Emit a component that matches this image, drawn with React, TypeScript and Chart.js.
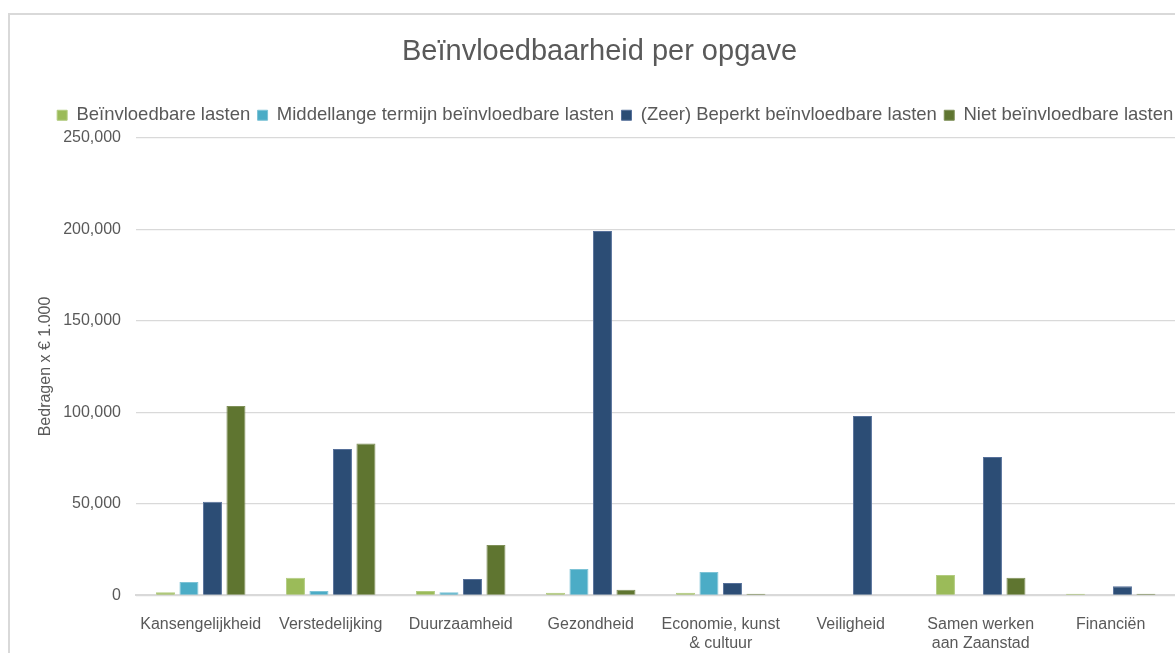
import React, { useEffect, useRef } from 'react';
import { Chart, registerables } from 'chart.js';

Chart.register(...registerables);

const FONT = '"Liberation Sans", Arial, sans-serif';
const TEXT = '#595959';

const chartTitle = 'Beïnvloedbaarheid per opgave';
const yAxisTitle = 'Bedragen x € 1.000';

const categories: (string | string[])[] = [
  'Kansengelijkheid',
  'Verstedelijking',
  'Duurzaamheid',
  'Gezondheid',
  ['Economie, kunst', '& cultuur'],
  'Veiligheid',
  ['Samen werken', 'aan Zaanstad'],
  'Financiën',
];

const seriesNames = [
  'Beïnvloedbare lasten',
  'Middellange termijn beïnvloedbare lasten',
  '(Zeer) Beperkt beïnvloedbare lasten',
  'Niet beïnvloedbare lasten',
];

const beinvloedbaar = [1600, 9600, 2300, 1400, 1400, 0, 11100, 900];
const middellang = [7300, 2300, 1600, 14400, 12700, 0, 0, 0];
const beperkt = [51100, 79900, 8900, 199000, 6700, 98000, 75600, 4900];
const nietBeinvloedbaar = [103400, 83000, 27500, 3100, 900, 0, 9600, 900];

const yMin = 0;
const yMax = 250000;
const yStep = 50000;

const fills = ['#9bbb59', '#4bacc6', '#2c4d75', '#5f7530'];
const edges = ['#b3cc80', '#7dc3d6', '#56709a', '#7f9058'];

const LEGEND_DX = 26.5;
const LEGEND_DY = -3.2;

const legendShift = {
  id: 'legendShift',
  afterLayout(chart: any) {
    const l = chart.legend;
    if (!l) return;
    l.left += LEGEND_DX;
    l.right += LEGEND_DX;
    l.top += LEGEND_DY;
    l.bottom += LEGEND_DY;
  },
};

export default function App() {
  const ref = useRef<HTMLCanvasElement | null>(null);

  useEffect(() => {
    if (!ref.current) return;
    Chart.defaults.font.family = FONT;
    const values = [beinvloedbaar, middellang, beperkt, nietBeinvloedbaar];
    const chart = new Chart(ref.current, {
      type: 'bar',
      data: {
        labels: categories,
        datasets: values.map((v, i) => ({
          label: seriesNames[i],
          data: v,
          backgroundColor: fills[i],
          borderColor: edges[i],
          borderWidth: 1,
          categoryPercentage: 0.723,
          barPercentage: 0.81,
        })),
      },
      options: {
        animation: false,
        responsive: false,
        devicePixelRatio: 1,
        layout: { padding: { left: 13.3, right: 14.3, top: 0, bottom: 19.7 } },
        plugins: {
          tooltip: { enabled: false },
          title: {
            display: true,
            text: chartTitle,
            color: TEXT,
            font: { family: FONT, size: 29, weight: 'normal', lineHeight: 1.2 },
            padding: { top: 19.2, bottom: 32.85 },
          },
          legend: {
            display: true,
            position: 'top',
            align: 'start',
            labels: {
              color: TEXT,
              font: { family: FONT, size: 18.5 },
              boxWidth: 10,
              boxHeight: 10,
              padding: 7.35,
            },
          },
        },
        scales: {
          x: {
            grid: { display: false, drawTicks: false },
            border: { display: true, color: '#d9d9d9', width: 2 },
            ticks: {
              color: TEXT,
              font: { family: FONT, size: 16, lineHeight: 1.17 },
              padding: 19.8,
              maxRotation: 0,
              autoSkip: false,
            },
            afterFit: (scale: any) => {
              scale.height = 60;
            },
          },
          y: {
            min: yMin,
            max: yMax,
            grid: { color: '#d9d9d9', lineWidth: 1.3, drawTicks: false },
            border: { display: false },
            ticks: {
              stepSize: yStep,
              color: TEXT,
              font: { family: FONT, size: 16 },
              padding: 14.7,
              callback: (v: any) => Number(v).toLocaleString('en-US'),
            },
            title: {
              display: true,
              text: yAxisTitle,
              color: TEXT,
              font: { family: FONT, size: 16, lineHeight: 1.2 },
              padding: { top: 12.9, bottom: 0 },
            },
            afterFit: (scale: any) => {
              scale.width = 112.4;
            },
          },
        },
      },
      plugins: [legendShift],
    } as any);
    return () => chart.destroy();
  }, []);

  return (
    <div style={{ position: 'fixed', inset: 0, overflow: 'hidden', background: '#fff' }}>
      <div
        style={{
          position: 'absolute',
          left: 8,
          top: 13,
          width: 1184,
          height: 664,
          border: '2px solid #d9d9d9',
          boxSizing: 'border-box',
          background: '#fff',
        }}
      >
        <canvas ref={ref} width={1180} height={660} style={{ display: 'block', width: 1180, height: 660 }} />
      </div>
    </div>
  );
}
